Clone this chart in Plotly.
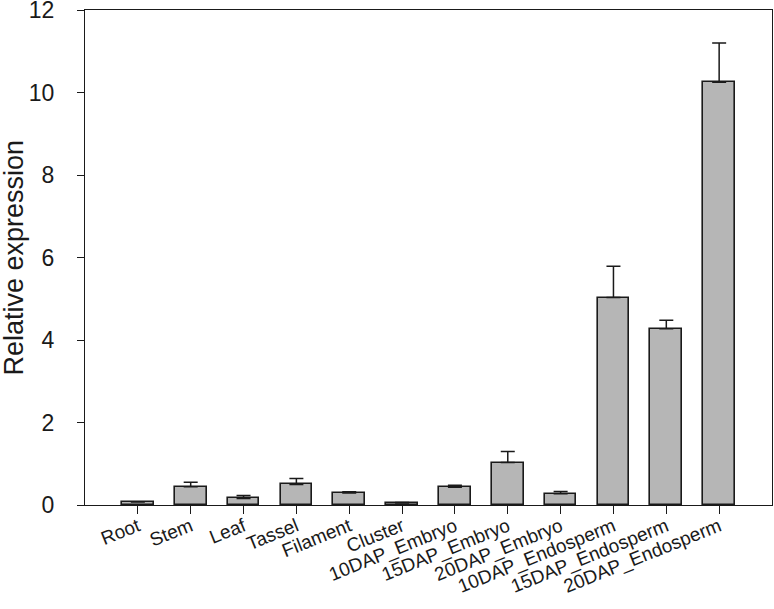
import plotly.graph_objects as go

categories = ["Root", "Stem", "Leaf", "Tassel", "Filament", "Cluster",
              "10DAP_Embryo", "15DAP_Embryo", "20DAP_Embryo",
              "10DAP_Endosperm", "15DAP_Endosperm", "20DAP_Endosperm"]
values = [0.07, 0.44, 0.16, 0.50, 0.29, 0.05, 0.43, 1.03, 0.27, 5.03, 4.27, 10.25]
errors = [0.01, 0.11, 0.07, 0.14, 0.03, 0.01, 0.05, 0.27, 0.06, 0.76, 0.21, 0.95]
y_ticks = [0, 2, 4, 6, 8, 10, 12]
y_title = "Relative expression"

fig = go.Figure()
fig.add_trace(go.Bar(
    x=list(range(len(categories))),
    y=values,
    width=0.6,
    marker=dict(color="#b6b6b6", line=dict(color="#1a1a1a", width=1.6)),
    error_y=dict(type="data", symmetric=False, array=errors,
                 arrayminus=[0] * len(errors), color="#1a1a1a",
                 thickness=1.5, width=7),
))

fig.update_layout(
    width=774, height=609, autosize=False,
    margin=dict(l=85, r=2, t=10, b=104, autoexpand=False),
    paper_bgcolor="white", plot_bgcolor="white",
    showlegend=False,
    font=dict(family="Liberation Sans, Arial, sans-serif", color="#1a1a1a"),
    bargap=0,
)
fig.add_annotation(
    text=y_title, xref="paper", yref="paper", x=0, y=0.5,
    xanchor="center", yanchor="middle", xshift=-72, textangle=-90,
    showarrow=False, borderpad=0, font=dict(size=27, color="#1a1a1a"),
)
fig.update_xaxes(
    range=[-1, 12],
    tickmode="array",
    tickvals=list(range(len(categories))),
    ticktext=categories,
    tickangle=-22,
    tickfont=dict(size=19),
    ticks="outside", ticklen=8, tickwidth=1.2, tickcolor="#1a1a1a",
    ticklabelstandoff=-6,
    showline=True, linecolor="#1a1a1a", linewidth=1.2, mirror=True,
    showgrid=False, zeroline=False, automargin=False,
    ticklabeloverflow="allow",
)
fig.update_yaxes(
    range=[0, 12],
    tickmode="array",
    tickvals=y_ticks,
    tickfont=dict(size=23),
    ticks="outside", ticklen=7, tickwidth=1.2, tickcolor="#1a1a1a",
    ticklabelstandoff=18,
    ticklabeloverflow="allow",
    showline=True, linecolor="#1a1a1a", linewidth=1.2, mirror=True,
    showgrid=False, zeroline=False, automargin=False,
)

fig.write_html("out.html", config={"responsive": False, "displayModeBar": False},
               post_script="document.body.style.margin='0px';")
